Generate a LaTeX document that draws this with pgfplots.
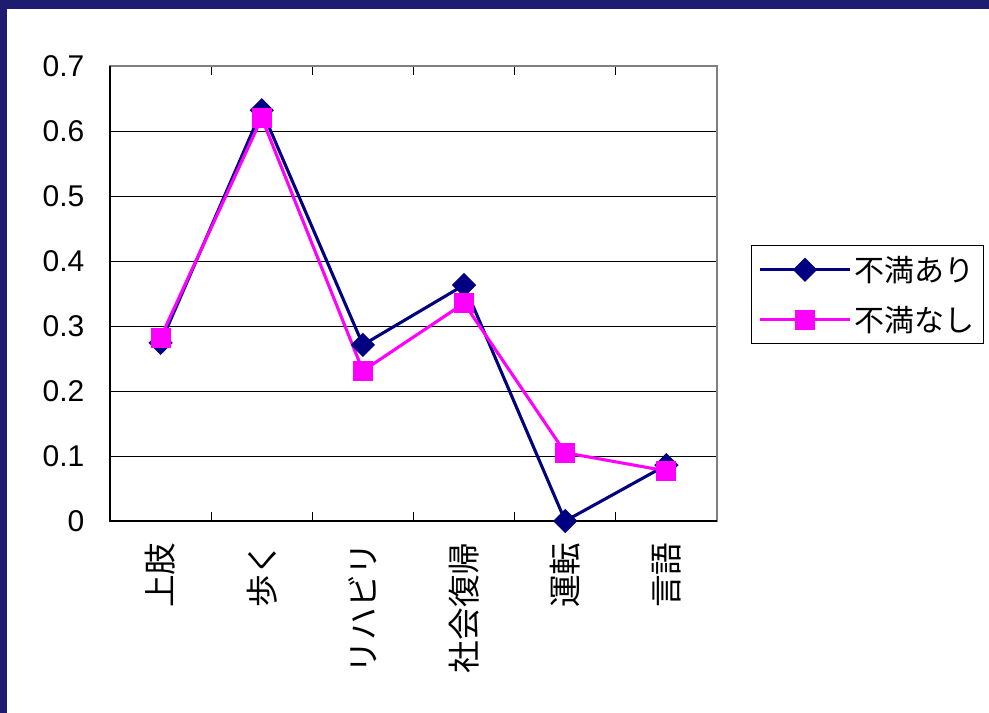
\documentclass[border=0pt]{standalone}
\usepackage{pgfplots}
\pgfplotsset{compat=1.18}
\usepackage{fontspec}
\setmainfont{Liberation Sans}
\newfontfamily\jp{Noto Sans CJK JP}

\definecolor{slidebg}{RGB}{30,28,112}
\definecolor{seriesA}{RGB}{0,0,128}
\definecolor{seriesB}{RGB}{255,0,255}

% share of respondents per item, two groups
\pgfplotstableread{
x  ari    nashi
0  0.274  0.282
1  0.632  0.620
2  0.271  0.231
3  0.363  0.335
4  0.000  0.105
5  0.086  0.077
}\scores

\begin{document}
\begin{tikzpicture}
% slide background with white chart area
\fill[slidebg] (0pt,0pt) rectangle (741.75pt,534.75pt);
\fill[white] (5.25pt,0pt) rectangle (741.75pt,528pt);

\begin{axis}[
  at={(82.5pt,144pt)}, anchor=south west,
  scale only axis,
  width=455.25pt, height=341.25pt,
  xmin=-0.5, xmax=5.5,
  ymin=0, ymax=0.7,
  ytick={0,0.1,...,0.7},
  yticklabels={0,0.1,0.2,0.3,0.4,0.5,0.6,0.7},
  xtick={0,...,5},
  xticklabels={上肢,歩く,リハビリ,社会復帰,運転,言語},
  minor xtick={0.5,1.5,...,4.5},
  major x tick style={draw=none},
  minor x tick style={black, line width=0.8pt},
  minor tick length=7pt,
  major tick length=0pt,
  ymajorgrids,
  grid style={black, line width=0.7pt},
  axis line style={draw=gray, line width=1.5pt},
  tick label style={font=\fontsize{22.5}{27}\selectfont},
  yticklabel style={inner sep=0pt, xshift=-19pt},
  xticklabel style={font=\jp\fontsize{24.5}{28}\selectfont, rotate=90, anchor=east, inner sep=0pt, xshift=1pt},
  xticklabel shift=17pt,
  legend style={at={(1.056,0.6066)}, anchor=north west,
    draw=black, line width=0.7pt,
    font=\jp\fontsize{22.5}{26}\selectfont,
    inner xsep=5pt, inner ysep=6pt,
    row sep=13pt},
  legend cell align=left,
  legend image code/.code={
    \draw[mark repeat=2,mark phase=2] plot coordinates {(0pt,0pt) (34pt,0pt) (68pt,0pt)};
  },
  clip=false,
]
% left and bottom axis lines in black over the grey frame
\draw[black, line width=1.5pt] (rel axis cs:0,1) -- (rel axis cs:0,0) -- (rel axis cs:1,0);

\addplot[seriesA, line width=2.3pt, mark=square*, mark size=5.3pt,
  mark options={rotate=45, solid, fill=seriesA}] table[x=x, y=ari] {\scores};
\addlegendentry{不満あり}
\addplot[seriesB, line width=2.3pt, mark=square*, mark size=6.3pt,
  mark options={solid, fill=seriesB}] table[x=x, y=nashi] {\scores};
\addlegendentry{不満なし}
\end{axis}
\pgfresetboundingbox
\useasboundingbox (0pt,0pt) rectangle (741.75pt,534.75pt);
\end{tikzpicture}
\end{document}
